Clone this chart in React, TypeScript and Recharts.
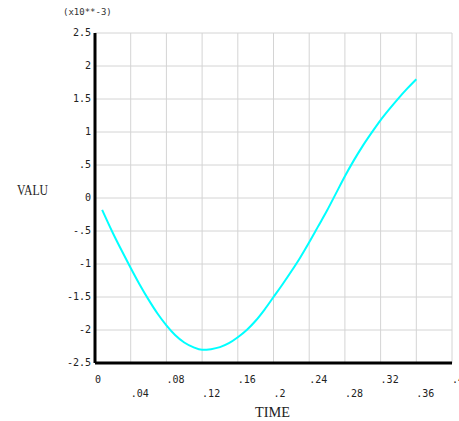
import { LineChart, Line, XAxis, YAxis, CartesianGrid, Customized } from 'recharts'

const times = [
  0.008, 0.02, 0.03, 0.04, 0.05, 0.06, 0.07, 0.08, 0.09, 0.1, 0.11, 0.12, 0.13, 0.14, 0.15,
  0.16, 0.17, 0.18, 0.19, 0.2, 0.21, 0.22, 0.23, 0.24, 0.25, 0.26, 0.27, 0.28, 0.29, 0.3,
  0.31, 0.32, 0.33, 0.34, 0.35, 0.36,
]
const valu = [
  -0.18, -0.53, -0.8, -1.06, -1.31, -1.54, -1.75, -1.93, -2.08, -2.19, -2.26, -2.3, -2.29,
  -2.26, -2.2, -2.11, -2.0, -1.86, -1.69, -1.5, -1.31, -1.11, -0.9, -0.67, -0.43, -0.19,
  0.07, 0.33, 0.57, 0.79, 0.99, 1.18, 1.35, 1.51, 1.66, 1.8,
]
const xTicks = [0, 0.04, 0.08, 0.12, 0.16, 0.2, 0.24, 0.28, 0.32, 0.36, 0.4]
const yTicks = [-2.5, -2, -1.5, -1, -0.5, 0, 0.5, 1, 1.5, 2, 2.5]

const data = times.map((t, i) => ({ t, v: valu[i] }))

const mono = '"DejaVu Sans Mono", monospace'
const serif = '"Liberation Serif", "DejaVu Serif", serif'

// ansys style: drop leading zero, ".04", "-.5"
const fmt = (v: number) => {
  if (v === 0) return '0'
  const s = String(Math.round(v * 1000) / 1000)
  return s.replace(/^(-?)0\./, '$1.')
}

const XTick = (props: any) => {
  const { x, y, payload, index } = props
  const dy = index % 2 === 0 ? 12 : 26
  return (
    <text x={x} y={y + dy} textAnchor="start" fontFamily={mono} fontSize={10} fill="#222">
      {fmt(payload.value)}
    </text>
  )
}

const YTick = (props: any) => {
  const { y, payload } = props
  return (
    <text x={91} y={y + 3} textAnchor="end" fontFamily={mono} fontSize={10} fill="#222">
      {fmt(payload.value)}
    </text>
  )
}

const Titles = () => (
  <g>
    <text x={63} y={15} fontFamily={mono} fontSize={9} fill="#333">
      (x10**-3)
    </text>
    <text
      x={17}
      y={195}
      fontFamily={serif}
      fontSize={14}
      fill="#222"
      textLength={31}
      lengthAdjust="spacingAndGlyphs"
    >
      VALU
    </text>
    <text
      x={255}
      y={417}
      fontFamily={serif}
      fontSize={14}
      fill="#222"
      textLength={35}
      lengthAdjust="spacingAndGlyphs"
    >
      TIME
    </text>
  </g>
)

export default function App() {
  return (
    <div style={{ position: 'absolute', left: 0, top: 0, background: '#fff' }}>
      <LineChart
        width={459}
        height={421}
        data={data}
        margin={{ top: 33, right: 7, bottom: 0, left: 0 }}
      >
        <CartesianGrid stroke="#d4d4d4" strokeWidth={1} />
        <XAxis
          dataKey="t"
          type="number"
          domain={[0, 0.4]}
          ticks={xTicks}
          interval={0}
          height={58}
          tick={<XTick />}
          tickLine={false}
          axisLine={{ stroke: '#000', strokeWidth: 3 }}
        />
        <YAxis
          type="number"
          domain={[-2.5, 2.5]}
          ticks={yTicks}
          interval={0}
          width={95}
          tick={<YTick />}
          tickLine={false}
          axisLine={{ stroke: '#000', strokeWidth: 3 }}
        />
        <Line
          type="monotone"
          dataKey="v"
          stroke="#00ffff"
          strokeWidth={2}
          dot={false}
          isAnimationActive={false}
        />
        <Customized component={Titles} />
      </LineChart>
    </div>
  )
}
